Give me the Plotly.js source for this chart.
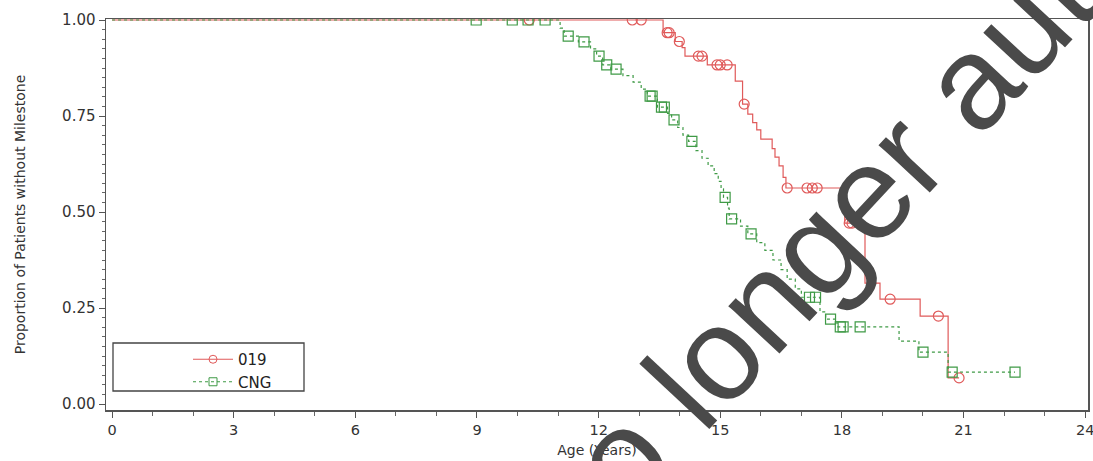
<!DOCTYPE html>
<html>
<head>
<meta charset="utf-8">
<script src="https://cdn.plot.ly/plotly-3.0.1.min.js"></script>
<style>
  html, body { margin: 0; padding: 0; background: #ffffff; }
  #chart { width: 1093px; height: 461px; }
</style>
</head>
<body>
<div id="chart"></div>
<script>
// ---- Data (Kaplan-Meier step curves) ----
const seriesNames = ["019", "CNG"];

// 019 step curve (event times, survival after each step)
const time019 = [0, 13.59, 13.89, 14.06, 14.13, 14.68, 15.37, 15.55, 15.68, 15.8, 15.9, 16.0, 16.28, 16.35, 16.45, 16.55, 16.62, 18.0, 18.07, 18.57, 18.94, 19.93, 20.62, 20.89];
const surv019 = [1, 0.967, 0.944, 0.928, 0.906, 0.883, 0.841, 0.781, 0.755, 0.733, 0.714, 0.69, 0.665, 0.643, 0.62, 0.59, 0.5625, 0.516, 0.471, 0.315, 0.273, 0.229, 0.068, 0.068];
// 019 censored observations
const cens019X = [10.29, 12.83, 13.05, 13.69, 13.74, 13.99, 14.46, 14.55, 14.92, 15.0, 15.17, 15.59, 16.65, 17.14, 17.27, 17.39, 18.18, 18.25, 19.19, 20.38, 20.89];
const cens019Y = [1, 1, 1, 0.967, 0.967, 0.944, 0.906, 0.906, 0.883, 0.883, 0.883, 0.781, 0.5625, 0.5625, 0.5625, 0.5625, 0.471, 0.471, 0.273, 0.229, 0.068];

// CNG step curve
const timeCNG = [0, 11.05, 11.15, 11.5, 11.8, 11.95, 12.1, 12.3, 12.6, 12.85, 13.05, 13.2, 13.45, 13.7, 13.8, 13.95, 14.08, 14.22, 14.4, 14.55, 14.7, 14.85, 14.95, 15.02, 15.08, 15.18, 15.22, 15.5, 15.68, 15.9, 16.1, 16.3, 16.5, 16.65, 16.85, 17.0, 17.46, 17.6, 17.88, 19.41, 19.9, 20.62, 22.27];
const survCNG = [1, 0.979, 0.958, 0.943, 0.925, 0.906, 0.883, 0.872, 0.855, 0.838, 0.82, 0.802, 0.773, 0.757, 0.74, 0.72, 0.70, 0.684, 0.66, 0.64, 0.62, 0.60, 0.58, 0.56, 0.538, 0.51, 0.482, 0.463, 0.443, 0.42, 0.40, 0.375, 0.35, 0.325, 0.30, 0.278, 0.24, 0.221, 0.201, 0.164, 0.135, 0.083, 0.083];
// CNG censored observations
const censCNGX = [8.98, 9.87, 10.26, 10.68, 11.25, 11.64, 12.01, 12.2, 12.43, 13.27, 13.32, 13.55, 13.62, 13.86, 14.3, 15.12, 15.28, 15.76, 17.2, 17.35, 17.72, 17.96, 18.03, 18.45, 20.0, 20.72, 22.27];
const censCNGY = [1, 1, 1, 1, 0.958, 0.943, 0.906, 0.883, 0.872, 0.802, 0.802, 0.773, 0.773, 0.74, 0.684, 0.538, 0.482, 0.443, 0.278, 0.278, 0.221, 0.201, 0.201, 0.201, 0.135, 0.083, 0.083];

const xTickVals = [0, 3, 6, 9, 12, 15, 18, 21, 24];
const yTickVals = [0, 0.25, 0.5, 0.75, 1.0];
const yTickText = ["0.00", "0.25", "0.50", "0.75", "1.00"];
const watermarkText = "no longer authorised";

// ---- Styles ----
const red = "#e05a5a";
const green = "#3f9a46";
const font = "DejaVu Sans, Verdana, sans-serif";

const traces = [
  { x: time019, y: surv019, mode: "lines", line: { shape: "hv", color: red, width: 1.2 }, showlegend: false, hoverinfo: "skip" },
  { x: timeCNG, y: survCNG, mode: "lines", line: { shape: "hv", color: green, width: 1.2, dash: "3px,3px" }, showlegend: false, hoverinfo: "skip" },
  { x: cens019X, y: cens019Y, mode: "markers", marker: { symbol: "circle-open", size: 10, color: red, line: { width: 1.2 } }, showlegend: false },
  { x: censCNGX, y: censCNGY, mode: "markers", marker: { symbol: "square-open", size: 10, color: green, line: { width: 1.2 } }, showlegend: false },
  // legend entries
  { x: [null], y: [null], name: seriesNames[0], mode: "lines+markers", line: { color: red, width: 1.2 }, marker: { symbol: "circle-open", size: 8, color: red } },
  { x: [null], y: [null], name: seriesNames[1], mode: "lines+markers", line: { color: green, width: 1.2, dash: "3px,3px" }, marker: { symbol: "square-open", size: 8, color: green } }
];

const L = 106, R = 1088, T = 19, B = 410;
const px2paperX = p => (p - L) / (R - L);
const px2paperY = p => (B - p) / (B - T);

const layout = {
  width: 1093, height: 461,
  margin: { l: L, r: 1093 - R, t: T, b: 461 - B, pad: 0 },
  paper_bgcolor: "#ffffff", plot_bgcolor: "#ffffff",
  font: { family: font, color: "#333333", size: 13 },
  showlegend: true,
  legend: {
    x: px2paperX(188), y: px2paperY(343), xanchor: "left", yanchor: "top",
    bgcolor: "rgba(0,0,0,0)", borderwidth: 0,
    font: { family: font, size: 15, color: "#222222" },
    tracegroupgap: 0, itemwidth: 40
  },
  xaxis: {
    range: [-0.15, 24.07], showgrid: false, zeroline: false,
    showline: true, linecolor: "#555555", linewidth: 1.5, mirror: true,
    ticks: "outside", ticklen: 6, tickwidth: 1, tickcolor: "#555555",
    tickvals: xTickVals, ticktext: xTickVals.map(String),
    ticklabeloverflow: "allow",
    tickfont: { family: font, size: 14.5, color: "#333333" },
    minor: { dtick: 1, ticks: "outside", ticklen: 4, tickcolor: "#666666", showgrid: false },
    title: { text: "Age (Years)", font: { family: font, size: 14, color: "#333333" }, standoff: 8 }
  },
  yaxis: {
    range: [-0.0156, 1.0026], showgrid: false, zeroline: false,
    showline: true, linecolor: "#555555", linewidth: 1.5, mirror: true,
    ticks: "outside", ticklen: 6, tickwidth: 1, tickcolor: "#555555",
    tickvals: yTickVals, ticktext: yTickText,
    tickfont: { family: font, size: 15, color: "#333333" },
    minor: { dtick: 0.025, ticks: "outside", ticklen: 3, tickcolor: "#666666", showgrid: false },
    title: { text: "Proportion of Patients without Milestone", font: { family: font, size: 14, color: "#333333" }, standoff: 33 }
  },
  shapes: [
    { type: "rect", xref: "paper", yref: "paper",
      x0: px2paperX(113), x1: px2paperX(304), y0: px2paperY(391), y1: px2paperY(343),
      line: { color: "#444444", width: 1.3 }, fillcolor: "rgba(0,0,0,0)" }
  ],
  annotations: [
    { text: watermarkText, xref: "paper", yref: "paper",
      x: px2paperX(955), y: px2paperY(98), xanchor: "center", yanchor: "middle",
      textangle: -47, showarrow: false,
      font: { family: "Liberation Sans, Arial, sans-serif", size: 132, color: "#4a4a4a" } }
  ]
};

Plotly.newPlot("chart", traces, layout, { staticPlot: true, displayModeBar: false });
</script>
</body>
</html>
